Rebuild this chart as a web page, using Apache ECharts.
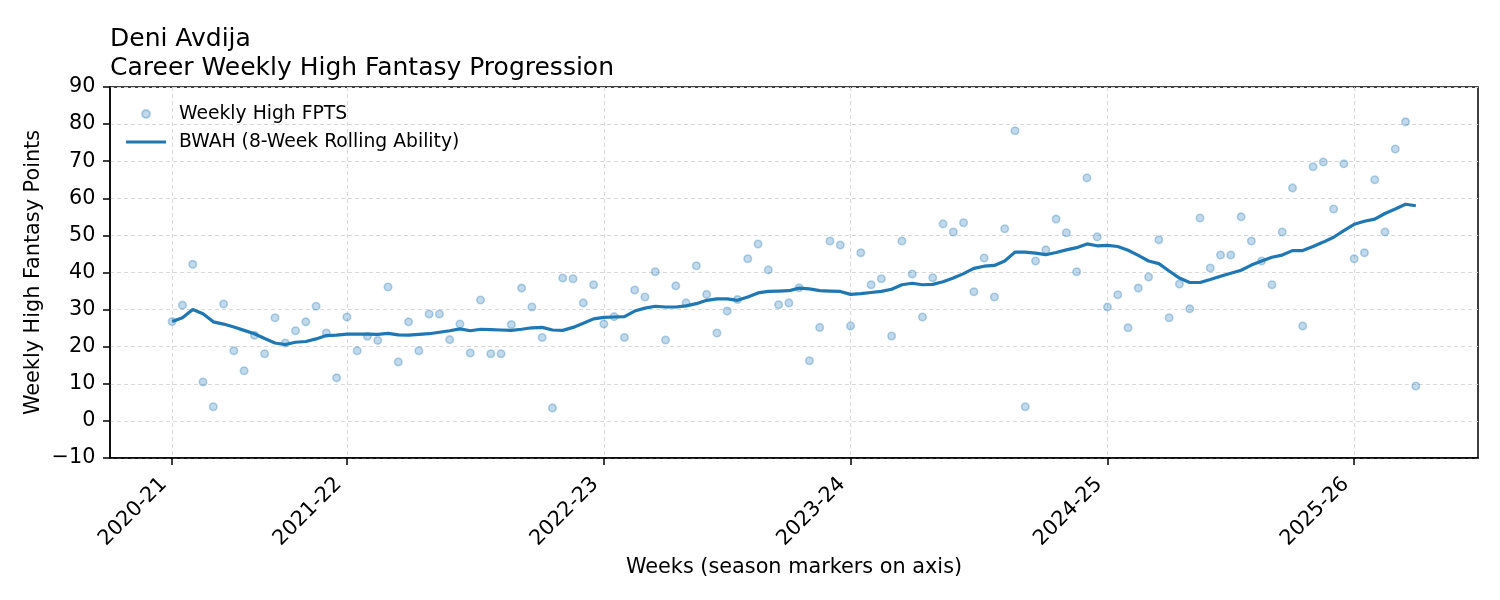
<!DOCTYPE html>
<html>
<head>
<meta charset="utf-8">
<script src="https://cdn.jsdelivr.net/npm/echarts@6/dist/echarts.min.js"></script>
<style>
  html, body { margin: 0; padding: 0; background: #ffffff; }
  #chart { width: 1500px; height: 600px; }
</style>
</head>
<body>
<div id="chart"></div>
<script>
// ---- Data ----
const seasonLabels = ['2020-21', '2021-22', '2022-23', '2023-24', '2024-25', '2025-26'];
const seasonStarts = [0, 17, 42, 66, 91, 115];

const weeklyHighFpts = [
  26.8, 31.2, 42.2, 10.5, 3.8, 31.5, 18.9, 13.5, 23.1, 18.1,
  27.8, 21.0, 24.3, 26.7, 30.9, 23.7, 11.6, 28.0, 18.9, 22.8,
  21.7, 36.1, 15.9, 26.7, 18.9, 28.8, 28.8, 21.9, 26.1, 18.3,
  32.6, 18.1, 18.1, 26.0, 35.8, 30.7, 22.5, 3.5, 38.5, 38.3,
  31.8, 36.7, 26.1, 28.1, 22.5, 35.3, 33.4, 40.2, 21.8, 36.4,
  31.8, 41.8, 34.1, 23.7, 29.6, 32.7, 43.7, 47.7, 40.7, 31.3,
  31.8, 35.9, 16.2, 25.2, 48.5, 47.4, 25.6, 45.3, 36.7, 38.3,
  22.9, 48.5, 39.6, 28.0, 38.6, 53.1, 50.9, 53.4, 34.8, 43.9,
  33.4, 51.8, 78.2, 3.8, 43.1, 46.1, 54.4, 50.7, 40.2, 65.5,
  49.6, 30.7, 34.0, 25.1, 35.8, 38.8, 48.8, 27.8, 36.9, 30.2,
  54.7, 41.2, 44.7, 44.7, 55.0, 48.5, 43.1, 36.7, 50.9, 62.8,
  25.6, 68.5, 69.8, 57.1, 69.3, 43.7, 45.3, 65.0, 50.9, 73.3,
  80.6, 9.4
];

const bwahRolling = [
  26.8, 27.8, 30.0, 28.9, 26.7, 26.1, 25.3, 24.4, 23.5, 22.2,
  21.0, 20.6, 21.2, 21.4, 22.1, 23.0, 23.1, 23.4, 23.4, 23.4,
  23.3, 23.6, 23.2, 23.1, 23.3, 23.5, 23.9, 24.3, 24.8, 24.3,
  24.7, 24.6, 24.5, 24.4, 24.7, 25.1, 25.2, 24.5, 24.4, 25.2,
  26.3, 27.5, 27.9, 28.0, 28.1, 29.6, 30.4, 30.9, 30.7, 30.7,
  31.0, 31.6, 32.5, 32.9, 32.9, 32.5, 33.4, 34.5, 34.9, 35.0,
  35.1, 35.8, 35.6, 35.1, 35.0, 34.9, 34.1, 34.3, 34.6, 34.9,
  35.5, 36.7, 37.1, 36.7, 36.8, 37.5, 38.5, 39.7, 41.1, 41.7,
  41.9, 43.1, 45.5, 45.5, 45.2, 44.8, 45.4, 46.1, 46.7, 47.7,
  47.2, 47.3, 47.0, 46.0, 44.6, 43.1, 42.4, 40.4, 38.5, 37.3,
  37.3, 38.1, 39.0, 39.8, 40.6, 42.0, 43.1, 44.1, 44.7, 45.9,
  45.9, 47.0, 48.2, 49.5, 51.3, 53.0, 53.8, 54.4, 55.9, 57.1,
  58.4, 58.0
];

const yTicks = { min: -10, max: 90, interval: 10 };

// ---- Build chart ----
const FONT = 'DejaVu Sans';
const nWeeks = weeklyHighFpts.length;
const lastIdx = nWeeks - 1;
const pad = 0.05 * lastIdx;

const scatterData = weeklyHighFpts.map((v, i) => [i, v]);
const lineData = bwahRolling.map((v, i) => [i, v]);

const gridLine = { show: true, lineStyle: { color: '#d9d9d9', width: 1, type: [4, 3] } };

const chart = echarts.init(document.getElementById('chart'), null, { renderer: 'canvas' });
chart.setOption({
  animation: false,
  backgroundColor: '#ffffff',
  title: {
    text: 'Deni Avdija\nCareer Weekly High Fantasy Progression',
    left: 110,
    top: 25,
    padding: 0,
    textStyle: { fontFamily: FONT, fontSize: 25, fontWeight: 'normal', color: '#000', lineHeight: 29 }
  },
  legend: {
    orient: 'vertical',
    left: 126,
    top: 103,
    itemWidth: 40,
    itemHeight: 8,
    itemGap: 6,
    padding: 0,
    textStyle: { fontFamily: FONT, fontSize: 18.75, color: '#000', lineHeight: 22, padding: [0, 0, 0, 8] },
    data: [
      { name: 'Weekly High FPTS' },
      { name: 'BWAH (8-Week Rolling Ability)', icon: 'path://M0,0 L40,0 L40,3.2 L0,3.2 Z' }
    ]
  },
  grid: {
    left: 110, right: 22, top: 87, bottom: 142,
    show: true, borderColor: '#000', borderWidth: 1.5, backgroundColor: 'transparent',
    outerBoundsMode: 'none', containLabel: false
  },
  xAxis: {
    type: 'value',
    min: -pad,
    max: lastIdx + pad,
    name: 'Weeks (season markers on axis)',
    nameLocation: 'middle',
    nameGap: 99,
    nameMoveOverlap: false,
    nameTextStyle: { fontFamily: FONT, fontSize: 20.8, color: '#000', verticalAlign: 'top' },
    axisLine: { show: true, onZero: false, lineStyle: { color: '#000', width: 1.5 } },
    axisTick: { show: true, inside: false, length: 7, lineStyle: { color: '#000', width: 1.5 }, customValues: seasonStarts },
    axisLabel: {
      customValues: seasonStarts,
      rotate: 45,
      margin: 14.5,
      padding: [0, 12, 0, 0],
      fontFamily: FONT, fontSize: 20.8, color: '#000',
      formatter: function (v) {
        const k = seasonStarts.indexOf(Math.round(v));
        return k >= 0 ? seasonLabels[k] : '';
      }
    },
    splitLine: gridLine
  },
  yAxis: {
    type: 'value',
    min: yTicks.min,
    max: yTicks.max,
    interval: yTicks.interval,
    name: 'Weekly High Fantasy Points',
    nameLocation: 'middle',
    nameGap: 66,
    nameMoveOverlap: false,
    nameTextStyle: { fontFamily: FONT, fontSize: 20.8, color: '#000' },
    axisLine: { show: true, onZero: false, lineStyle: { color: '#000', width: 1.5 } },
    axisTick: { show: true, inside: false, length: 7, lineStyle: { color: '#000', width: 1.5 } },
    axisLabel: {
      margin: 14.5, fontFamily: FONT, fontSize: 20.8, color: '#000',
      formatter: function (v) { return v < 0 ? '\u2212' + Math.abs(v) : String(v); }
    },
    splitLine: gridLine
  },
  series: [
    {
      name: 'Weekly High FPTS',
      type: 'scatter',
      data: scatterData,
      symbol: 'circle',
      symbolSize: 7.5,
      itemStyle: { color: 'rgba(31,119,180,0.28)', borderColor: 'rgba(31,119,180,0.3)', borderWidth: 1.6, opacity: 1 },
      z: 2
    },
    {
      name: 'BWAH (8-Week Rolling Ability)',
      type: 'line',
      data: lineData,
      symbol: 'none',
      showSymbol: false,
      smooth: false,
      lineStyle: { color: '#1f77b4', width: 3.2 },
      itemStyle: { color: '#1f77b4' },
      z: 3
    }
  ]
});
</script>
</body>
</html>
